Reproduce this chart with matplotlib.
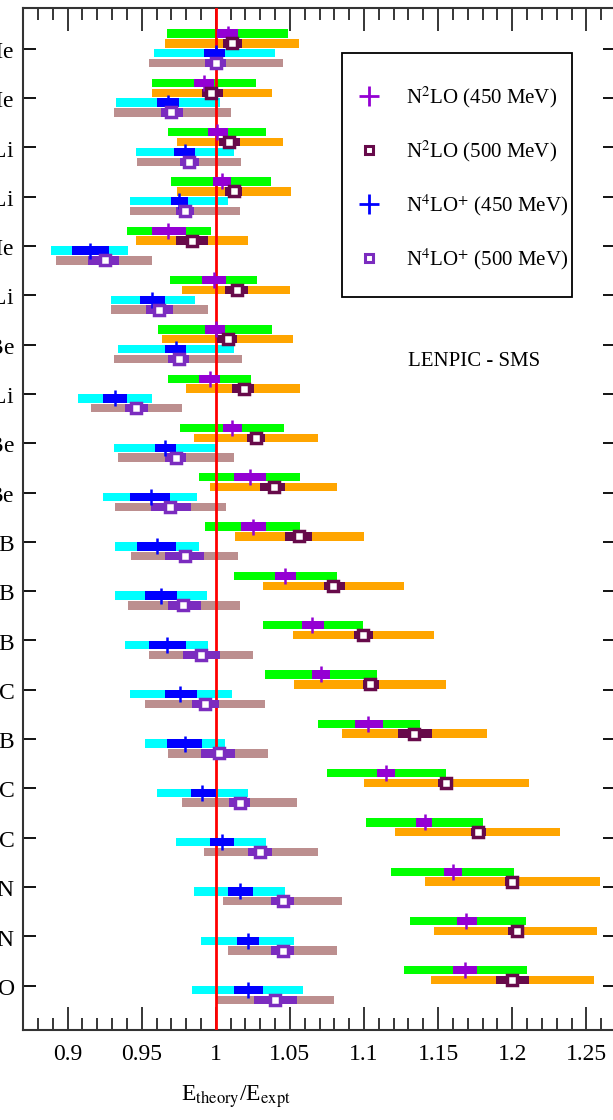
import numpy as np
import matplotlib
matplotlib.use("Agg")
import matplotlib.pyplot as plt
from matplotlib.lines import Line2D
from matplotlib.patches import Rectangle
from matplotlib.ticker import MultipleLocator

plt.rcParams['font.family'] = ['Liberation Serif', 'DejaVu Serif']
plt.rcParams['mathtext.fontset'] = 'stix'

nuclei = [r'$^{4}$He', r'$^{6}$He', r'$^{6}$Li', r'$^{7}$Li', r'$^{8}$He',
          r'$^{8}$Li', r'$^{8}$Be', r'$^{9}$Li', r'$^{9}$Be', r'$^{10}$Be',
          r'$^{10}$B', r'$^{11}$B', r'$^{12}$B', r'$^{12}$C', r'$^{13}$B',
          r'$^{13}$C', r'$^{14}$C', r'$^{14}$N', r'$^{15}$N', r'$^{16}$O']

# N2LO, 450 MeV
n2_450 = [1.008, 0.992, 1.001, 1.004, 0.968, 0.999, 1.000, 0.996, 1.011, 1.023,
          1.025, 1.047, 1.065, 1.071, 1.103, 1.115, 1.141, 1.160, 1.169, 1.168]
n2_450_dlo = [1.001, 0.985, 0.995, 0.998, 0.957, 0.991, 0.993, 0.989, 1.005, 1.012,
              1.017, 1.040, 1.058, 1.065, 1.094, 1.109, 1.135, 1.154, 1.163, 1.160]
n2_450_dhi = [1.015, 0.999, 1.008, 1.010, 0.980, 1.007, 1.006, 1.003, 1.018, 1.034,
              1.034, 1.054, 1.073, 1.077, 1.113, 1.121, 1.146, 1.166, 1.176, 1.176]
n2_450_lo = [0.967, 0.957, 0.968, 0.970, 0.940, 0.969, 0.961, 0.968, 0.976, 0.989,
             0.993, 1.012, 1.032, 1.033, 1.069, 1.075, 1.101, 1.118, 1.131, 1.127]
n2_450_hi = [1.049, 1.027, 1.034, 1.037, 0.997, 1.028, 1.038, 1.024, 1.046, 1.057,
             1.057, 1.082, 1.099, 1.109, 1.138, 1.155, 1.180, 1.201, 1.209, 1.210]

# N2LO, 500 MeV
n2_500 = [1.011, 0.997, 1.009, 1.012, 0.984, 1.014, 1.008, 1.019, 1.027, 1.039,
          1.056, 1.079, 1.099, 1.104, 1.134, 1.155, 1.177, 1.200, 1.203, 1.200]
n2_500_dlo = [1.005, 0.991, 1.002, 1.006, 0.973, 1.006, 1.001, 1.011, 1.021, 1.030,
              1.047, 1.073, 1.093, 1.099, 1.123, 1.150, 1.172, 1.195, 1.197, 1.189]
n2_500_dhi = [1.018, 1.005, 1.016, 1.018, 0.995, 1.022, 1.014, 1.026, 1.033, 1.047,
              1.065, 1.087, 1.106, 1.110, 1.146, 1.160, 1.182, 1.204, 1.208, 1.211]
n2_500_lo = [0.966, 0.957, 0.974, 0.974, 0.946, 0.977, 0.964, 0.980, 0.985, 0.996,
             1.013, 1.032, 1.052, 1.053, 1.085, 1.100, 1.121, 1.141, 1.147, 1.145]
n2_500_hi = [1.056, 1.038, 1.045, 1.051, 1.022, 1.050, 1.052, 1.057, 1.069, 1.082,
             1.100, 1.127, 1.147, 1.155, 1.183, 1.211, 1.232, 1.259, 1.257, 1.255]

# N4LO+, 450 MeV
n4_450 = [1.000, 0.968, 0.979, 0.975, 0.915, 0.957, 0.973, 0.932, 0.966, 0.956,
          0.960, 0.963, 0.967, 0.976, 0.979, 0.991, 1.004, 1.016, 1.022, 1.022]
n4_450_dlo = [0.992, 0.960, 0.972, 0.970, 0.903, 0.949, 0.966, 0.924, 0.959, 0.942,
              0.947, 0.952, 0.955, 0.966, 0.967, 0.983, 0.996, 1.008, 1.014, 1.012]
n4_450_dhi = [1.006, 0.975, 0.986, 0.981, 0.928, 0.966, 0.980, 0.940, 0.973, 0.969,
              0.973, 0.974, 0.980, 0.987, 0.991, 1.000, 1.012, 1.025, 1.029, 1.032]
n4_450_lo = [0.958, 0.933, 0.946, 0.942, 0.889, 0.929, 0.934, 0.907, 0.931, 0.924,
             0.932, 0.932, 0.939, 0.942, 0.952, 0.960, 0.973, 0.985, 0.990, 0.984]
n4_450_hi = [1.040, 1.003, 1.012, 1.008, 0.941, 0.986, 1.012, 0.957, 1.000, 0.987,
             0.989, 0.994, 0.995, 1.011, 1.006, 1.022, 1.034, 1.047, 1.053, 1.059]

# N4LO+, 500 MeV
n4_500 = [1.000, 0.970, 0.982, 0.979, 0.925, 0.962, 0.975, 0.946, 0.973, 0.969,
          0.979, 0.978, 0.990, 0.993, 1.002, 1.016, 1.030, 1.045, 1.045, 1.040]
n4_500_dlo = [0.993, 0.963, 0.976, 0.973, 0.914, 0.953, 0.968, 0.939, 0.966, 0.956,
              0.966, 0.968, 0.978, 0.984, 0.990, 1.009, 1.022, 1.037, 1.037, 1.026]
n4_500_dhi = [1.007, 0.978, 0.989, 0.985, 0.935, 0.971, 0.982, 0.954, 0.980, 0.983,
              0.992, 0.990, 1.003, 1.002, 1.013, 1.023, 1.038, 1.053, 1.053, 1.055]
n4_500_lo = [0.955, 0.931, 0.947, 0.942, 0.892, 0.929, 0.931, 0.916, 0.934, 0.932,
             0.943, 0.941, 0.955, 0.952, 0.968, 0.977, 0.992, 1.005, 1.008, 1.001]
n4_500_hi = [1.045, 1.010, 1.017, 1.016, 0.957, 0.995, 1.018, 0.977, 1.012, 1.007,
             1.015, 1.016, 1.025, 1.033, 1.035, 1.055, 1.069, 1.085, 1.082, 1.080]

labels = [r'N$^2$LO (450 MeV)', r'N$^2$LO (500 MeV)',
          r'N$^4$LO$^{+}$ (450 MeV)', r'N$^4$LO$^{+}$ (500 MeV)']

series = [
    # center, dark lo, dark hi, lo, hi, offset, light colour, dark colour, marker
    (n2_450, n2_450_dlo, n2_450_dhi, n2_450_lo, n2_450_hi, -0.31, '#00ff00', '#9400d3', '|'),
    (n2_500, n2_500_dlo, n2_500_dhi, n2_500_lo, n2_500_hi, -0.11, '#ffa500', '#670a4a', 's'),
    (n4_450, n4_450_dlo, n4_450_dhi, n4_450_lo, n4_450_hi, 0.09, '#00ffff', '#0000ff', '|'),
    (n4_500, n4_500_dlo, n4_500_dhi, n4_500_lo, n4_500_hi, 0.29, '#bc8f8f', '#7b2cbf', 's'),
]

fig = plt.figure(figsize=(6.13, 11.2), dpi=100)
ax = fig.add_axes([0.0377, 0.0804, 0.9672, 0.9125])

y = np.arange(len(nuclei))
bh = 0.17

for c, dlo, dhi, lo, hi, off, lc, dc, mk in series:
    c, dlo, dhi, lo, hi = map(np.array, (c, dlo, dhi, lo, hi))
    ax.barh(y + off, hi - lo, left=lo, height=bh, color=lc, zorder=2)
    ax.barh(y + off, dhi - dlo, left=dlo, height=bh, color=dc, zorder=4)
    if mk == '|':
        ax.plot(c, y + off, ls='none', marker='|', ms=11.5, mew=1.8, color=dc, zorder=5)
    else:
        ax.plot(c, y + off, ls='none', marker='s', ms=6.5, mew=2.5, mec=dc, mfc='white', zorder=5)

ax.axvline(1.0, color='red', lw=2, zorder=3)

ax.set_xlim(0.87, 1.27)
ax.set_ylim(19.9, -0.83)
ax.set_yticks(y)
ax.set_yticklabels(nuclei, fontsize=17)
ax.xaxis.set_minor_locator(MultipleLocator(0.01))
ax.set_xticks([0.9, 0.95, 1.0, 1.05, 1.1, 1.15, 1.2, 1.25])
ax.set_xticklabels(['0.9', '0.95', '1', '1.05', '1.1', '1.15', '1.2', '1.25'], fontsize=17)

ax.tick_params(axis='x', which='major', direction='in', top=True, length=16.5, width=1.1, pad=10)
ax.tick_params(axis='x', which='minor', direction='in', top=True, length=8.5, width=1.1)
ax.tick_params(axis='y', which='major', direction='in', right=True, length=9.5, width=1.3, pad=6)
for s in ax.spines.values():
    s.set_linewidth(1.5)
    s.set_color('#333333')

ax.set_xlabel(r'E$_{\rm theory}$/E$_{\rm expt}$', fontsize=17)
ax.xaxis.set_label_coords(0.359, -0.052)

ax.text(0.76, 0.654, 'LENPIC - SMS', transform=ax.transAxes, fontsize=15,
        ha='center', va='center')

# legend entries without frame, box drawn separately
handles = [
    Line2D([], [], ls='none', marker='+', ms=14, mew=2, color='#9400d3'),
    Line2D([], [], ls='none', marker='s', ms=6, mew=2.2, mec='#670a4a', mfc='white'),
    Line2D([], [], ls='none', marker='+', ms=14, mew=2, color='#0000ff'),
    Line2D([], [], ls='none', marker='s', ms=6, mew=2.2, mec='#7b2cbf', mfc='white'),
]
leg = ax.legend(handles, labels, loc='upper left', bbox_to_anchor=(0.552, 0.9247),
                borderaxespad=0, borderpad=0, fontsize=15, frameon=False,
                labelspacing=1.35, handlelength=1.8, handletextpad=0.87)
ax.add_patch(Rectangle((0.5374, 0.7175), 0.3879, 0.2388, transform=ax.transAxes,
                       fill=False, edgecolor='black', lw=1.3, zorder=6))

fig.savefig('out.png', dpi=100)
